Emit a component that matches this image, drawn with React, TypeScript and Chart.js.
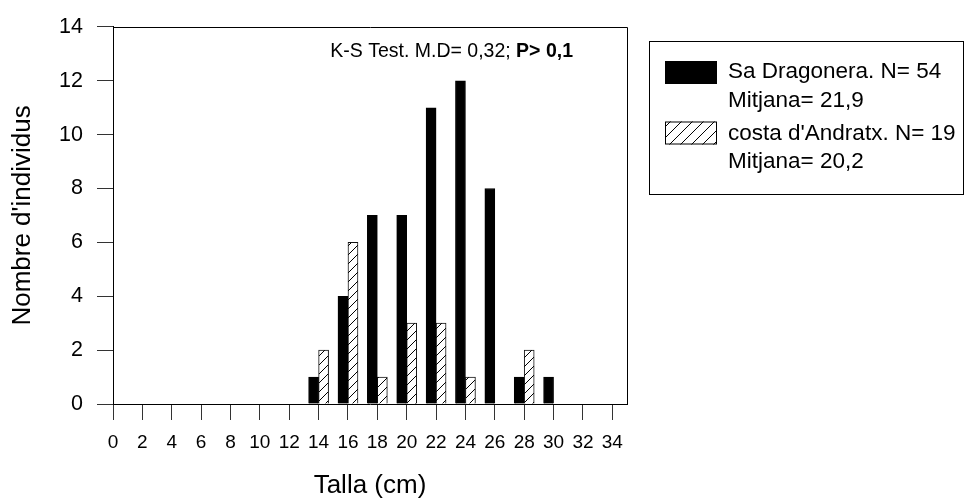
import React, { useEffect, useRef } from 'react';
import { Chart, registerables } from 'chart.js';

Chart.register(...registerables);

// ---- data ----
const xTickValues = [0, 2, 4, 6, 8, 10, 12, 14, 16, 18, 20, 22, 24, 26, 28, 30, 32, 34];
const yTickValues = [0, 2, 4, 6, 8, 10, 12, 14];
const sizeBins = [14, 16, 18, 20, 22, 24, 26, 28, 30];
const dragoneraCounts = [1, 4, 7, 7, 11, 12, 8, 1, 1];
const andratxCounts: (number | null)[] = [2, 6, 1, 3, 3, 1, null, 2, null];
const seriesNames = ['Sa Dragonera. N= 54', "costa d'Andratx. N= 19"];
const seriesMeans = ['Mitjana= 21,9', 'Mitjana= 20,2'];
const testLabel = 'K-S Test. M.D= 0,32; ';
const testLabelBold = 'P> 0,1';
const xTitle = 'Talla (cm)';
const yTitle = "Nombre d'individus";
const xMin = 0;
const xMax = 35;
const yMin = 0;
const yMax = 14;

const FONT = "'Liberation Sans', Arial, Helvetica, sans-serif";

function makeHatch(spacing: number): CanvasPattern | string {
  const c = document.createElement('canvas');
  c.width = spacing;
  c.height = spacing;
  const g = c.getContext('2d');
  if (!g) return '#fff';
  g.fillStyle = '#fff';
  g.fillRect(0, 0, spacing, spacing);
  g.strokeStyle = '#000';
  g.lineWidth = 1;
  g.beginPath();
  g.moveTo(0, spacing);
  g.lineTo(spacing, 0);
  g.moveTo(-1, 1);
  g.lineTo(1, -1);
  g.moveTo(spacing - 1, spacing + 1);
  g.lineTo(spacing + 1, spacing - 1);
  g.stroke();
  const p = g.createPattern(c, 'repeat');
  return p || '#fff';
}

export default function App() {
  const ref = useRef<HTMLCanvasElement | null>(null);

  useEffect(() => {
    const canvas = ref.current;
    if (!canvas) return;
    const barHatch = makeHatch(9);
    const legendHatch = makeHatch(11);

    const framePlugin = {
      id: 'frame',
      afterDraw(chart: any) {
        const { ctx, chartArea } = chart;
        const { left, right, top, bottom } = chartArea;
        ctx.save();
        ctx.strokeStyle = '#000';
        ctx.lineWidth = 1;
        ctx.beginPath();
        ctx.moveTo(Math.round(left) + 0.5, Math.round(top) + 0.5);
        ctx.lineTo(Math.round(right) + 0.5, Math.round(top) + 0.5);
        ctx.lineTo(Math.round(right) + 0.5, Math.round(bottom) + 0.5);
        ctx.stroke();
        ctx.restore();
      },
    };

    const annotationPlugin = {
      id: 'ksAnnotation',
      afterDraw(chart: any) {
        const { ctx, chartArea } = chart;
        ctx.save();
        ctx.fillStyle = '#000';
        ctx.textBaseline = 'middle';
        ctx.textAlign = 'left';
        const size = 19.5;
        ctx.font = `${size}px ${FONT}`;
        const w1 = ctx.measureText(testLabel).width;
        ctx.font = `bold ${size}px ${FONT}`;
        const w2 = ctx.measureText(testLabelBold).width;
        const endX = chartArea.right - 54;
        const y = chartArea.top + 25;
        const startX = endX - w1 - w2;
        ctx.font = `${size}px ${FONT}`;
        ctx.fillText(testLabel, startX, y);
        ctx.font = `bold ${size}px ${FONT}`;
        ctx.fillText(testLabelBold, startX + w1, y);
        ctx.restore();
      },
    };

    const legendPlugin = {
      id: 'customLegend',
      afterDraw(chart: any) {
        const { ctx, chartArea } = chart;
        const bx = Math.round(chartArea.right) + 22.5;
        const by = Math.round(chartArea.top) + 14.5;
        const bw = 314;
        const bh = 153;
        ctx.save();
        ctx.fillStyle = '#fff';
        ctx.fillRect(bx, by, bw, bh);
        ctx.strokeStyle = '#000';
        ctx.lineWidth = 1;
        ctx.strokeRect(bx, by, bw, bh);
        const sx = bx + 15.5;
        const sw = 52;
        const sh = 23;
        // swatch 1: solid black
        ctx.fillStyle = '#000';
        ctx.fillRect(sx, by + 19.5, sw, sh);
        // swatch 2: hatched
        ctx.fillStyle = legendHatch as any;
        ctx.fillRect(sx, by + 80, sw, sh);
        ctx.strokeStyle = '#000';
        ctx.strokeRect(sx + 0.5, by + 80.5, sw - 1, sh - 1);
        // text
        ctx.fillStyle = '#000';
        ctx.textAlign = 'left';
        ctx.textBaseline = 'middle';
        ctx.font = `22.5px ${FONT}`;
        const tx = bx + 78.5;
        ctx.fillText(seriesNames[0], tx, by + 30.5);
        ctx.fillText(seriesMeans[0], tx, by + 59);
        ctx.fillText(seriesNames[1], tx, by + 92);
        ctx.fillText(seriesMeans[1], tx, by + 120.5);
        ctx.restore();
      },
    };

    const chart = new Chart(canvas, {
      type: 'bar',
      data: {
        datasets: [
          {
            label: seriesNames[0],
            data: sizeBins.map((x, i) => ({ x, y: dragoneraCounts[i] })),
            backgroundColor: '#000',
            borderColor: '#000',
            borderWidth: 1,
            barThickness: 10,
          },
          {
            label: seriesNames[1],
            data: sizeBins.map((x, i) => ({ x, y: andratxCounts[i] })),
            backgroundColor: barHatch as any,
            borderColor: '#111',
            borderWidth: 1,
            barThickness: 10,
          },
        ],
      },
      options: {
        responsive: false,
        animation: false,
        devicePixelRatio: 1,
        layout: { padding: { left: 0, top: 17, right: 338, bottom: 0 } },
        plugins: {
          legend: { display: false },
          tooltip: { enabled: false },
          title: { display: false },
        },
        scales: {
          x: {
            type: 'linear',
            min: xMin,
            max: xMax,
            offset: false,
            afterBuildTicks: (scale: any) => {
              scale.ticks = xTickValues.map((v) => ({ value: v }));
            },
            afterFit: (scale: any) => {
              scale.height = 100;
            },
            ticks: {
              color: '#000',
              font: { size: 19, family: FONT },
              padding: 11,
              maxRotation: 0,
              autoSkip: false,
            },
            grid: {
              offset: false,
              drawOnChartArea: false,
              drawTicks: true,
              tickLength: 16,
              color: '#333',
            },
            border: { display: true, color: '#000', width: 1 },
            title: {
              display: true,
              text: xTitle,
              color: '#000',
              font: { size: 26, family: FONT },
              padding: { top: 0, bottom: 3 },
            },
          },
          y: {
            type: 'linear',
            min: yMin,
            max: yMax,
            afterBuildTicks: (scale: any) => {
              scale.ticks = yTickValues.map((v) => ({ value: v }));
            },
            afterFit: (scale: any) => {
              scale.width = 113;
            },
            ticks: {
              color: '#000',
              font: { size: 21.5, family: FONT },
              padding: 14,
            },
            grid: {
              drawOnChartArea: false,
              drawTicks: true,
              tickLength: 16,
              color: '#333',
            },
            border: { display: true, color: '#000', width: 1 },
            title: {
              display: true,
              text: yTitle,
              color: '#000',
              font: { size: 26, family: FONT },
              padding: { top: 7, bottom: 0 },
            },
          },
        },
      } as any,
      plugins: [framePlugin, annotationPlugin, legendPlugin],
    });

    return () => {
      chart.destroy();
    };
  }, []);

  return (
    <div style={{ position: 'absolute', left: 0, top: 0, width: 965, height: 504, background: '#fff' }}>
      <canvas ref={ref} width={965} height={504} style={{ display: 'block', width: 965, height: 504 }} />
    </div>
  );
}
